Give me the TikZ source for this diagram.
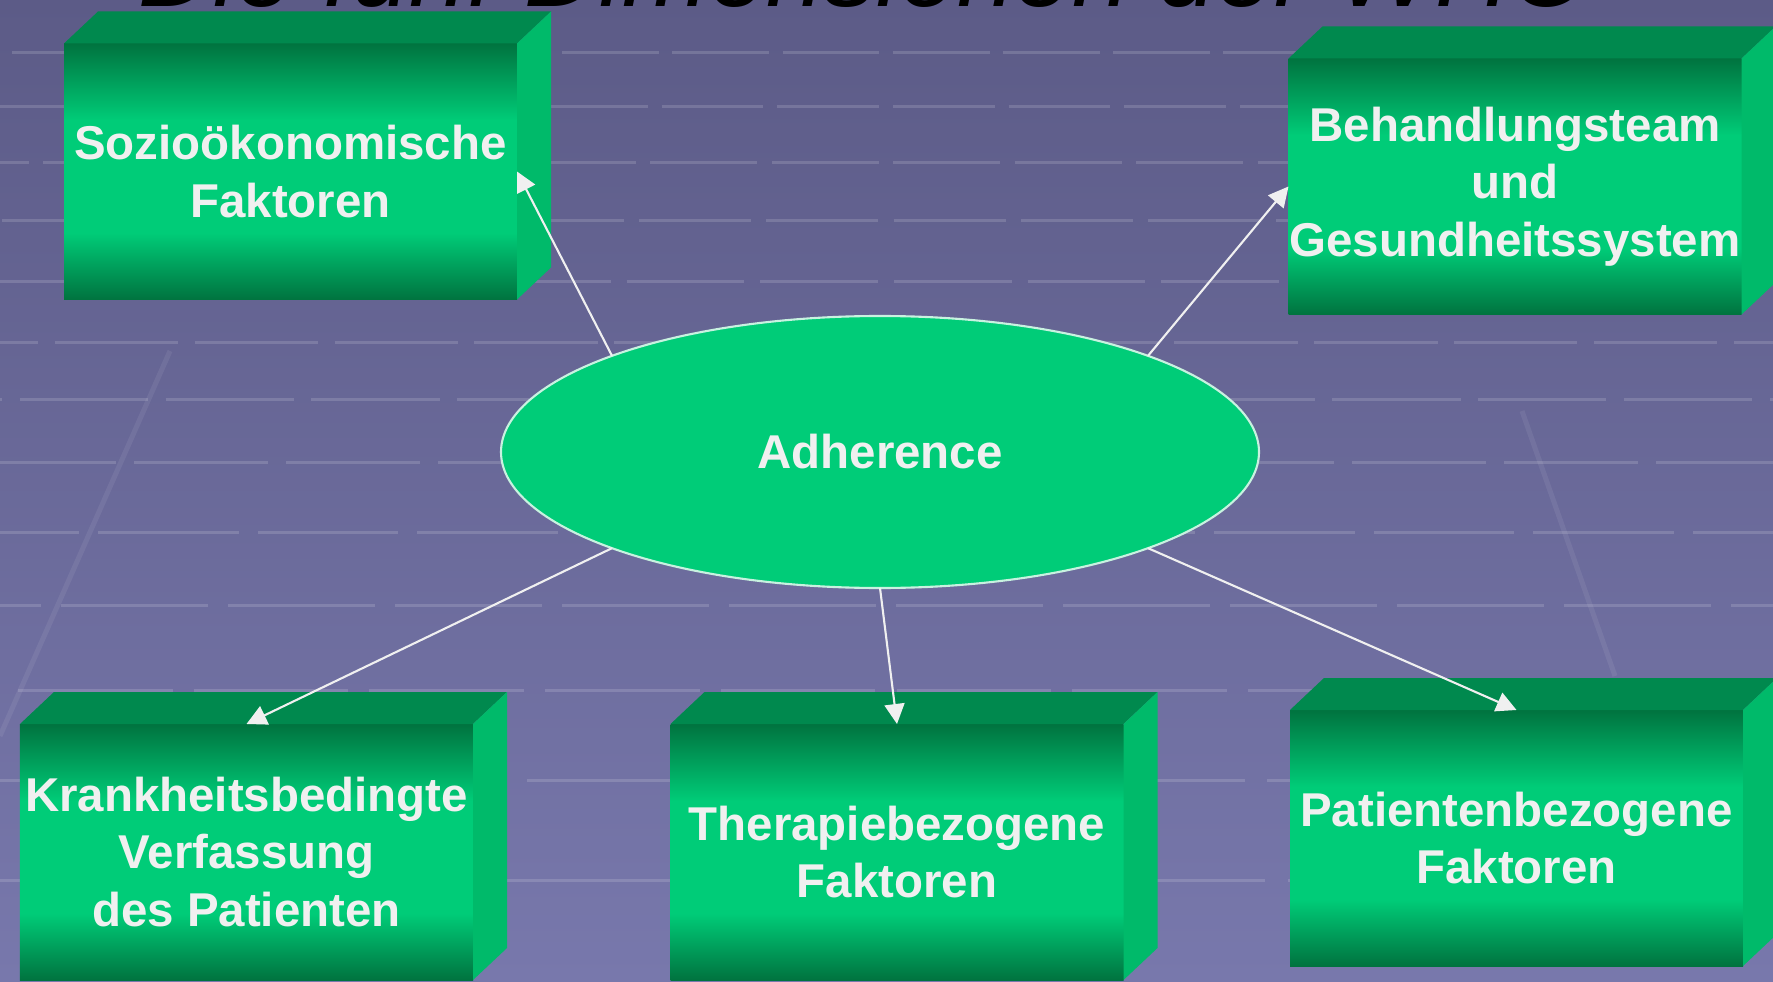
\documentclass[tikz,border=0pt]{standalone}
\usepackage{fontspec}
\setmainfont{Liberation Sans}
\usetikzlibrary{shapes.geometric,arrows.meta}

\definecolor{bgtop}{HTML}{5C5B87}
\definecolor{bgbot}{HTML}{7878AC}
\definecolor{gdark}{HTML}{00733F}
\definecolor{gbright}{HTML}{00CC78}
\definecolor{gtop}{HTML}{00894E}
\definecolor{gside}{HTML}{00BA6A}
\definecolor{txt}{HTML}{F0F0F0}
\definecolor{rim}{HTML}{C8F2E0}

\pgfdeclareverticalshading{frontshade}{100bp}{color(0bp)=(gdark); color(25bp)=(gdark); color(38bp)=(gbright); color(60bp)=(gbright); color(75bp)=(gdark); color(100bp)=(gdark)}

\tikzset{
  frontbox/.style={rectangle, minimum width=4.53cm, minimum height=2.56cm, inner sep=0pt, outer sep=0pt,
    shading=frontshade, text=txt, align=center, font=\bfseries\fontsize{13.5}{16.4}\selectfont},
  topface/.style={fill=gtop},
  sideface/.style={fill=gside},
  hub/.style={ellipse, minimum width=7.58cm, minimum height=2.72cm, inner sep=0pt, outer sep=0pt,
    fill=gbright, draw=rim, line width=0.6pt, text=txt, font=\bfseries\fontsize{13.5}{16.4}\selectfont},
  link/.style={draw=txt, line width=0.6pt, -{Triangle[length=2mm,width=2mm,fill=txt]}},
  gridline/.style={draw=white, opacity=0.15, line width=0.3mm},
  streak/.style={draw=white, opacity=0.07, line width=0.5mm}
}

\begin{document}
\begin{tikzpicture}
\useasboundingbox (0,0) rectangle (17.73,9.81);
\clip (0,0) rectangle (17.73,9.81);

\shade[top color=bgtop, bottom color=bgbot] (0,0) rectangle (17.73,9.81);

\foreach \y in {9.28,8.74,8.18,7.60,6.99,6.38,5.81,5.19,4.49,3.76,2.91,2.01,1.01} {
  \pgfmathsetmacro\rowp{0.103*(19.97-\y)}
  \pgfmathsetmacro\rowg{0.12*\rowp}
  \pgfmathsetmacro\rowon{\rowp-\rowg}
  \pgfmathsetmacro\rowph{mod(\rowp-0.5*\rowg-8.86+10*\rowp,\rowp)}
  \draw[gridline, dash pattern=on \rowon cm off \rowg cm, dash phase=\rowph cm] (0,\y) -- (17.73,\y);
}

\draw[streak] (0,2.45) -- (1.70,6.30);
\draw[streak] (15.22,5.70) -- (16.15,3.05);

\node[anchor=base, font=\itshape\fontsize{29.5}{34}\selectfont] (D) at (8.65,9.74) {Die fünf Dimensionen der WHO};

\node[frontbox] (S) at (2.905,8.095) {Sozioökonomische\\Faktoren};
\node[frontbox] (B) at (15.15,7.945) {Behandlungsteam\\und\\Gesundheitssystem};
\node[frontbox] (K) at (2.465,1.29) {Krankheitsbedingte\\Verfassung\\des Patienten};
\node[frontbox] (T) at (8.97,1.29) {Therapiebezogene\\Faktoren};
\node[frontbox] (P) at (15.165,1.43) {Patientenbezogene\\Faktoren};

\foreach \n in {S,B,K,T,P} {
  \fill[topface] (\n.north west) -- ++(0.34,0.32) -- ++(4.53,0) -- (\n.north east) -- cycle;
  \fill[sideface] (\n.north east) -- ++(0.34,0.32) -- ++(0,-2.56) -- (\n.south east) -- cycle;
}

\node[hub] (A) at (8.80,5.29) {Adherence};

\draw[link] (A.north west) -- (S.east);
\draw[link] (A.north east) -- (B.west);
\draw[link] (A.south west) -- (K.north);
\draw[link] (A.south) -- (T.north);
\draw[link] (A.south east) -- (P.north);
\end{tikzpicture}
\end{document}
